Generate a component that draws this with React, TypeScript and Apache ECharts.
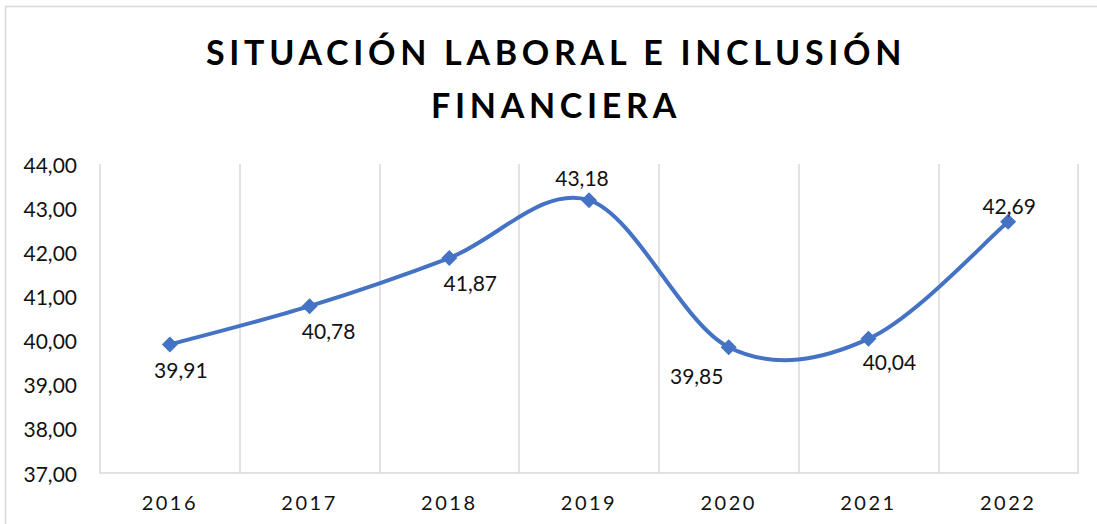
import React, { useEffect, useRef } from "react";
import * as echarts from "echarts";

const TITLE_LINES = ["SITUACIÓN LABORAL E INCLUSIÓN", "FINANCIERA"];
const YEARS = ["2016", "2017", "2018", "2019", "2020", "2021", "2022"];
const VALUES = [39.91, 40.78, 41.87, 43.18, 39.85, 40.04, 42.69];
const Y_MIN = 37;
const Y_MAX = 44;
const Y_STEP = 1;

// label placement (layout config, pixels relative to each marker)
const LABEL_OFFSETS: [number, number][] = [
  [11, 25],
  [19, 24],
  [21, 24],
  [-7, -23],
  [-32, 28],
  [21, 23],
  [1, -16],
];

const fmt = (v: number) => v.toFixed(2).replace(".", ",");
const FONT = "Lato, 'Noto Sans', sans-serif";
const BLUE = "#4472C4";

export default function App() {
  const ref = useRef<HTMLDivElement>(null);

  useEffect(() => {
    if (!ref.current) return;
    const chart = echarts.init(ref.current, undefined, { renderer: "svg" });

    const applySpacing = () => {
      const root = ref.current;
      if (!root) return;
      root.querySelectorAll("text").forEach((t) => {
        const s = (t.textContent || "").trim();
        if (TITLE_LINES.includes(s)) (t as any).style.letterSpacing = "4.7px";
        else if (YEARS.includes(s)) (t as any).style.letterSpacing = "2.5px";
      });
    };

    const n = VALUES.length;
    const renderSmooth = (params: any, api: any) => {
      const i = params.dataIndex;
      if (i >= n - 1) return null;
      const pt = (k: number) => {
        const kk = Math.max(0, Math.min(n - 1, k));
        return api.coord([kk, VALUES[kk]]);
      };
      const p0 = pt(i - 1);
      const p1 = pt(i);
      const p2 = pt(i + 1);
      const p3 = pt(i + 2);
      const f = 1 / 6;
      return {
        type: "bezierCurve",
        shape: {
          x1: p1[0],
          y1: p1[1],
          cpx1: p1[0] + (p2[0] - p0[0]) * f,
          cpy1: p1[1] + (p2[1] - p0[1]) * f,
          cpx2: p2[0] - (p3[0] - p1[0]) * f,
          cpy2: p2[1] - (p3[1] - p1[1]) * f,
          x2: p2[0],
          y2: p2[1],
        },
        style: { stroke: BLUE, lineWidth: 4, fill: null, lineCap: "round" },
      };
    };

    chart.setOption({
      animation: false,
      backgroundColor: "#ffffff",
      title: {
        text: TITLE_LINES.join("\n"),
        left: 556,
        textAlign: "center",
        top: 25,
        padding: 0,
        textStyle: {
          fontFamily: FONT,
          fontWeight: "bold",
          fontSize: 34,
          lineHeight: 53,
          color: "#000000",
        },
      },
      graphic: [
        {
          type: "rect",
          shape: { x: 5.5, y: 6.5, width: 1200, height: 700 },
          style: { fill: "none", stroke: "#d9d9d9", lineWidth: 1.5 },
          silent: true,
          z: -1,
        },
      ],
      grid: { left: 100, right: 19, top: 164, bottom: 51, containLabel: false },
      xAxis: {
        type: "category",
        data: YEARS,
        boundaryGap: true,
        axisLine: { show: true, lineStyle: { color: "#d9d9d9", width: 1.5 } },
        axisTick: { show: false },
        splitLine: { show: true, lineStyle: { color: "#d9d9d9", width: 1.5 } },
        axisLabel: {
          margin: 19,
          fontFamily: FONT,
          fontSize: 20,
          color: "#111111",
        },
      },
      yAxis: {
        type: "value",
        min: Y_MIN,
        max: Y_MAX,
        interval: Y_STEP,
        axisLine: { show: false },
        axisTick: { show: false },
        splitLine: { show: false },
        axisLabel: {
          margin: 23,
          fontFamily: FONT,
          fontSize: 21,
          color: "#111111",
          formatter: (v: number) => fmt(v),
        },
      },
      series: [
        {
          type: "custom",
          data: VALUES.map((v, i) => [i, v]),
          encode: { x: 0, y: 1 },
          renderItem: renderSmooth,
          silent: true,
          z: 2,
        },
        {
          type: "line",
          data: VALUES.map((v, i) => ({
            value: v,
            label: { offset: LABEL_OFFSETS[i] },
          })),
          symbol: "diamond",
          symbolSize: 16,
          itemStyle: { color: BLUE },
          lineStyle: { color: BLUE, width: 0, opacity: 0 },
          z: 3,
          label: {
            show: true,
            position: "inside",
            align: "center",
            verticalAlign: "middle",
            fontFamily: FONT,
            fontSize: 21,
            color: "#111111",
            formatter: (p: any) => fmt(p.value),
          },
        },
      ],
    });
    applySpacing();
    chart.on("finished", applySpacing);

    return () => {
      chart.dispose();
    };
  }, []);

  return (
    <div
      ref={ref}
      style={{ position: "absolute", left: 0, top: 0, width: 1097, height: 524 }}
    />
  );
}
